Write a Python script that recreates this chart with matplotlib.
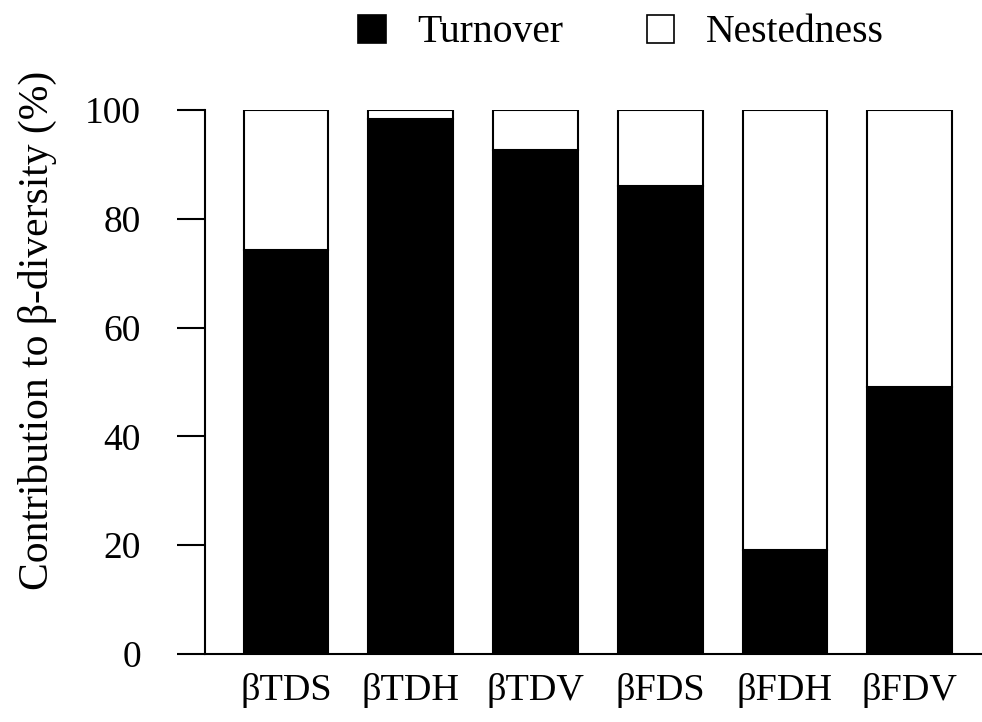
import matplotlib
matplotlib.use("Agg")
import matplotlib.pyplot as plt
from matplotlib.patches import Patch

# Partition of beta-diversity into turnover and nestedness components
categories = ["βTDS", "βTDH", "βTDV", "βFDS", "βFDH", "βFDV"]
turnover = [74.3, 98.3, 92.7, 86.1, 19.2, 49.0]
nestedness = [100 - t for t in turnover]
y_ticks = [0, 20, 40, 60, 80, 100]

plt.rcParams["font.family"] = ["Liberation Serif", "DejaVu Serif"]

fig = plt.figure(figsize=(9.82, 7.22), dpi=100)
ax = fig.add_axes([205 / 982, 1 - 654 / 722, 1 - 205 / 982, (654 - 110) / 722])

x = list(range(len(categories)))
ax.bar(x, turnover, width=0.68, color="black", edgecolor="black", linewidth=1.5)
ax.bar(x, nestedness, bottom=turnover, width=0.68, color="white",
       edgecolor="black", linewidth=1.5)

ax.set_xlim(-0.65, 5.58)
ax.set_ylim(0, 100)
ax.set_yticks(y_ticks)
ax.set_xticks(x)
ax.set_xticklabels(categories)

for s in ("top", "right"):
    ax.spines[s].set_visible(False)
for s in ("left", "bottom"):
    ax.spines[s].set_linewidth(1.5)

ax.tick_params(axis="y", direction="out", length=20, width=1.5, pad=26, labelsize=27)
ax.tick_params(axis="x", length=0, pad=13.5, labelsize=27.5)

ax.set_ylabel("Contribution to β-diversity (%)", fontsize=30)
ax.yaxis.set_label_coords(-0.19, 0.595)

handles = [Patch(facecolor="black", edgecolor="black", linewidth=1.2, label="Turnover"),
           Patch(facecolor="white", edgecolor="black", linewidth=1.2, label="Nestedness")]
fig.legend(handles=handles, loc="center", bbox_to_anchor=(621 / 982, 1 - 33 / 722),
           ncol=2, frameon=False, fontsize=28.5, handlelength=0.7, handleheight=0.7,
           handletextpad=0.8, columnspacing=2.1, borderpad=0)

fig.savefig("out.png", dpi=100)
